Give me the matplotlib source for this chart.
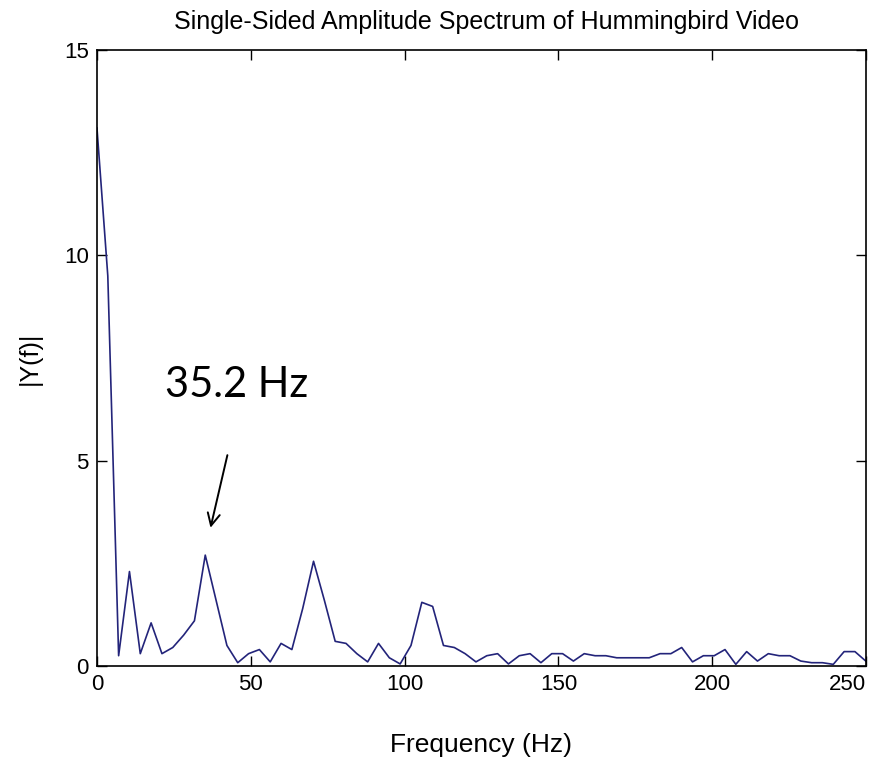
import numpy as np
import matplotlib
matplotlib.use('Agg')
import matplotlib.pyplot as plt

# Spectrum values (bin spacing 3.52 Hz)
bin_width = 3.52
amplitude = [13.1, 9.5, 0.25, 2.3, 0.3, 1.05, 0.3, 0.45, 0.75, 1.1,
             2.7, 1.6, 0.5, 0.08, 0.3, 0.4, 0.1, 0.55, 0.4, 1.4,
             2.55, 1.6, 0.6, 0.55, 0.3, 0.1, 0.55, 0.2, 0.05, 0.5,
             1.55, 1.45, 0.5, 0.45, 0.3, 0.1, 0.25, 0.3, 0.05, 0.25,
             0.3, 0.08, 0.3, 0.3, 0.12, 0.3, 0.25, 0.25, 0.2, 0.2,
             0.2, 0.2, 0.3, 0.3, 0.45, 0.1, 0.25, 0.25, 0.4, 0.04,
             0.35, 0.12, 0.3, 0.25, 0.25, 0.12, 0.08, 0.08, 0.04, 0.35,
             0.35, 0.12]
freq = np.arange(len(amplitude)) * bin_width

x_ticks = [0, 50, 100, 150, 200, 250]
y_ticks = [0, 5, 10, 15]

plt.rcParams['font.family'] = ['Liberation Sans', 'DejaVu Sans']

fig = plt.figure(figsize=(8.76, 7.67), dpi=100)
ax = fig.add_axes([0.1107, 0.1317, 0.8779, 0.8031])

ax.plot(freq, amplitude, color='#23247a', linewidth=1.2)

ax.set_xlim(0, 250)
ax.set_ylim(0, 15)
ax.set_xticks(x_ticks)
ax.set_yticks(y_ticks)
ax.tick_params(direction='in', length=7, width=1, top=True, right=True,
               labelsize=16, pad=6)
ax.get_xticklabels()[-1].set_horizontalalignment('right')
for side in ax.spines.values():
    side.set_linewidth(1.2)

# Title sits just above the frame
fig.text(0.555, 1 - 22 / 767, 'Single-Sided Amplitude Spectrum of Hummingbird Video',
         fontsize=18, ha='center', va='center')
ax.set_xlabel('Frequency (Hz)', fontsize=19, va='center')
ax.xaxis.set_label_coords(0.5, -0.128)
ax.set_ylabel('|Y(f)|', fontsize=18, va='center')
ax.yaxis.set_label_coords(-0.087, 0.5)

# Peak annotation
ax.annotate('', xy=(36.7, 3.3), xytext=(42.6, 5.2),
            arrowprops=dict(arrowstyle='->', color='black', lw=1.4,
                            mutation_scale=22))
ax.text(45.5, 6.85, '35.2 Hz', fontsize=30, family=['Lato', 'DejaVu Sans'],
        ha='center', va='center')

fig.savefig('out.png', dpi=100)
